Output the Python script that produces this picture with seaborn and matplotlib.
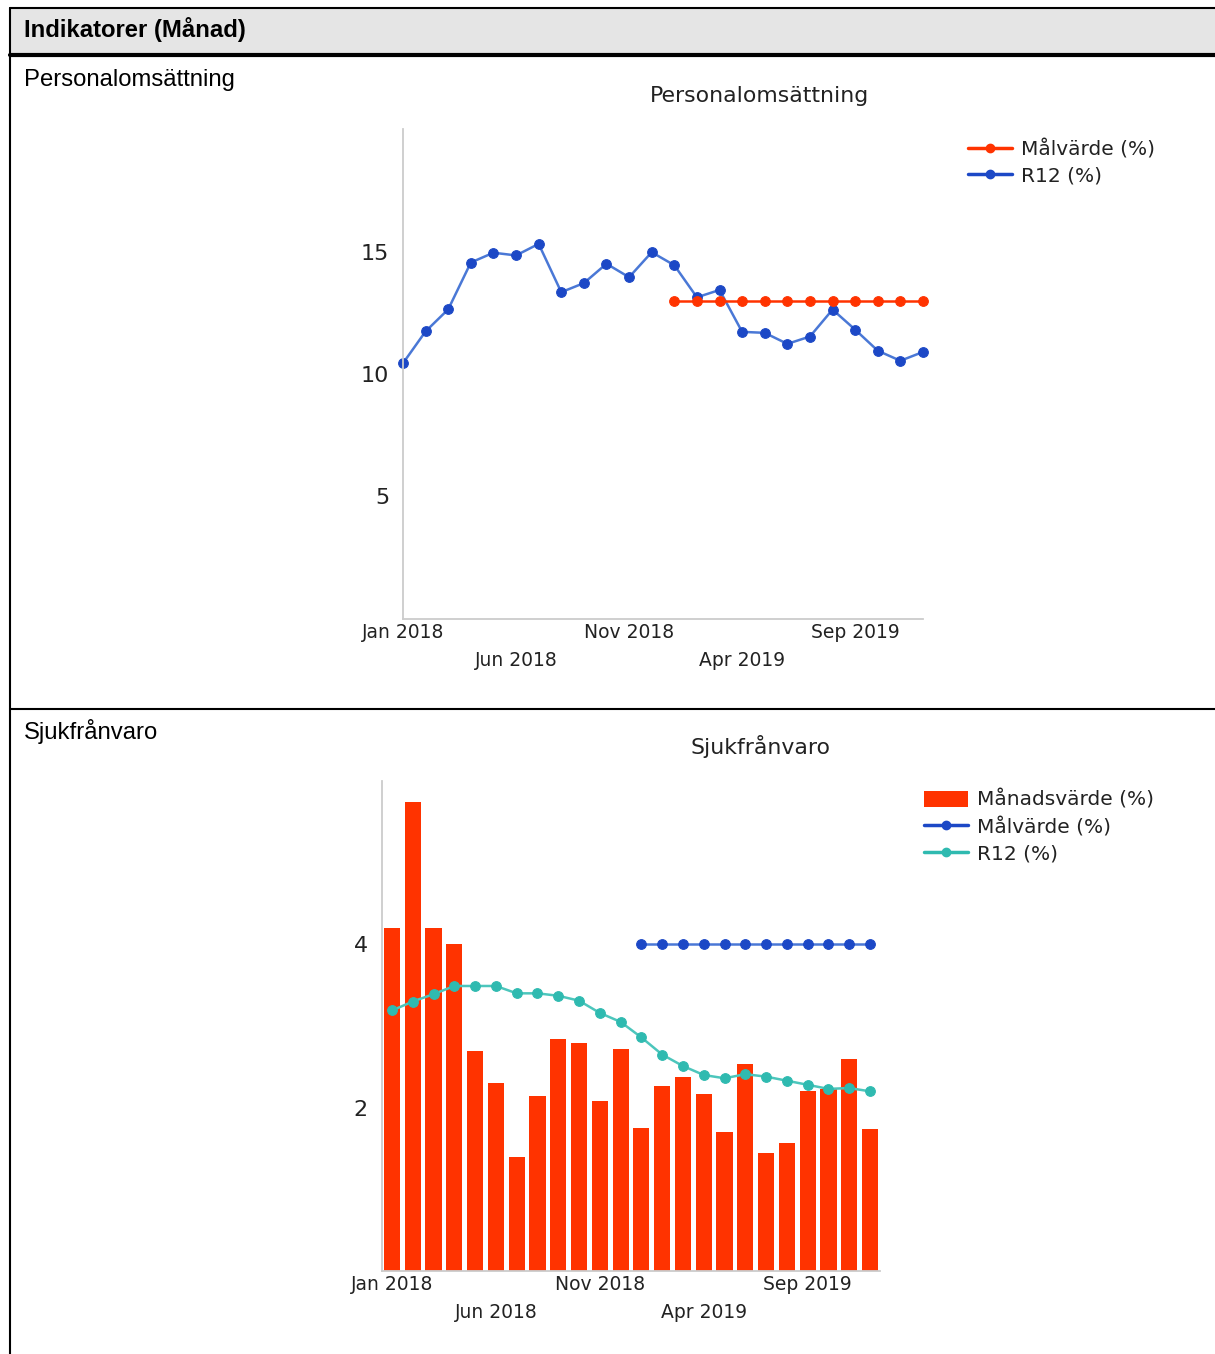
import matplotlib
matplotlib.use("Agg")
import matplotlib.pyplot as plt
from matplotlib import font_manager as fm
from matplotlib.lines import Line2D
from matplotlib.patches import Patch, Rectangle
import numpy as np
import pandas as pd
import seaborn as sns

months = ["Jan 2018", "Feb 2018", "Mar 2018", "Apr 2018", "May 2018", "Jun 2018",
          "Jul 2018", "Aug 2018", "Sep 2018", "Oct 2018", "Nov 2018", "Dec 2018",
          "Jan 2019", "Feb 2019", "Mar 2019", "Apr 2019", "May 2019", "Jun 2019",
          "Jul 2019", "Aug 2019", "Sep 2019", "Oct 2019", "Nov 2019", "Dec 2019"]
ticks_row1 = ["Jan 2018", "Nov 2018", "Sep 2019"]
ticks_row2 = ["Jun 2018", "Apr 2019"]

# Personalomsättning
pers_r12 = [10.44, 11.74, 12.64, 14.55, 14.95, 14.84, 15.31, 13.34, 13.71, 14.50, 13.95, 14.97,
            14.44, 13.13, 13.43, 11.72, 11.68, 11.23, 11.53, 12.63, 11.81, 10.95, 10.54, 10.90]
pers_mal = [np.nan, np.nan, np.nan, np.nan, np.nan, np.nan, np.nan, np.nan, np.nan, np.nan, np.nan, np.nan,
            13.0, 13.0, 13.0, 13.0, 13.0, 13.0, 13.0, 13.0, 13.0, 13.0, 13.0, 13.0]

# Sjukfrånvaro
sjuk_manad = [4.20, 5.74, 4.20, 4.00, 2.69, 2.30, 1.39, 2.14, 2.84, 2.79, 2.08, 2.72,
              1.75, 2.27, 2.37, 2.17, 1.70, 2.54, 1.45, 1.57, 2.20, 2.23, 2.59, 1.74]
sjuk_r12 = [3.19, 3.30, 3.39, 3.49, 3.49, 3.49, 3.40, 3.40, 3.37, 3.31, 3.16, 3.05,
            2.86, 2.65, 2.51, 2.40, 2.36, 2.41, 2.38, 2.33, 2.28, 2.23, 2.24, 2.20]
sjuk_mal = [np.nan, np.nan, np.nan, np.nan, np.nan, np.nan, np.nan, np.nan, np.nan, np.nan, np.nan, np.nan,
            4.0, 4.0, 4.0, 4.0, 4.0, 4.0, 4.0, 4.0, 4.0, 4.0, 4.0, 4.0]

RED = "#ff3300"
BLUE_M = "#1c48c6"
BLUE_L = "#4a78d6"
TEAL_M = "#2fbab0"
TEAL_L = "#4cc6bc"
TXT = "#222222"

sns.set_style("white")
plt.rcParams["font.family"] = ["DejaVu Sans"]


def lib_font(bold, size):
    # plain Liberation Sans (avoid the Narrow variant)
    want = 700 if bold else 400
    for f in fm.fontManager.ttflist:
        if (f.name == "Liberation Sans" and "narrow" not in f.fname.lower()
                and f.style == "normal" and f.weight == want):
            return fm.FontProperties(fname=f.fname, size=size)
    return fm.FontProperties(family="Arimo", size=size, weight="bold" if bold else "normal")


W, H = 1215, 1354
fig = plt.figure(figsize=(W / 100, H / 100), dpi=100)


def fx(x):
    return x / W


def fy(y):
    return 1 - y / H


# document frame
fig.add_artist(Rectangle((fx(10), fy(53)), fx(1215) - fx(10), fy(8) - fy(53),
                         transform=fig.transFigure, facecolor="#e5e5e5", edgecolor="none"))
fig.add_artist(Line2D([fx(10), 1], [fy(8), fy(8)], transform=fig.transFigure, color="black", lw=1.5))
fig.add_artist(Line2D([fx(10), 1], [fy(54.5), fy(54.5)], transform=fig.transFigure, color="black", lw=3))
fig.add_artist(Line2D([fx(10), 1], [fy(709), fy(709)], transform=fig.transFigure, color="black", lw=1.5))
fig.add_artist(Line2D([fx(10), fx(10)], [fy(8), 0], transform=fig.transFigure, color="black", lw=1.5))

fig.text(fx(24), fy(30), "Indikatorer (Månad)", fontproperties=lib_font(True, 17.2),
         va="center", ha="left", color="black")
fig.text(fx(24), fy(80), "Personalomsättning", fontproperties=lib_font(False, 17.2),
         va="center", ha="left", color="black")
fig.text(fx(24), fy(732), "Sjukfrånvaro", fontproperties=lib_font(False, 17.2),
         va="center", ha="left", color="black")


def style_axes(ax, yticks):
    sns.despine(ax=ax)
    for s in ["left", "bottom"]:
        ax.spines[s].set_color("#cccccc")
        ax.spines[s].set_linewidth(1.3)
    ax.set_yticks(yticks)
    ax.set_yticklabels([str(v) for v in yticks])
    ax.tick_params(axis="y", length=7, width=1, color="#bbbbbb", labelsize=16, labelcolor=TXT, pad=3)
    ax.set_xticks([0, 10, 20])
    ax.set_xticklabels(ticks_row1)
    ax.set_xticks([5, 15], minor=True)
    ax.set_xticklabels(ticks_row2, minor=True)
    ax.tick_params(axis="x", which="both", length=0, labelsize=13.5, labelcolor=TXT)
    ax.tick_params(axis="x", which="major", pad=3)
    ax.tick_params(axis="x", which="minor", pad=23)
    ax.set_xlabel("")
    ax.set_ylabel("")
    ax.grid(False)


# ---- Chart 1: Personalomsättning
df1 = pd.DataFrame({"idx": np.arange(len(months)), "month": months,
                    "r12": pers_r12, "mal": pers_mal})
ax1 = fig.add_axes([fx(403), fy(619), fx(923) - fx(403), fy(129) - fy(619)])
sns.lineplot(data=df1, x="idx", y="r12", ax=ax1, color=BLUE_L, lw=1.8, marker="o",
             markersize=7, markerfacecolor=BLUE_M, markeredgecolor=BLUE_M, clip_on=False)
sub = df1.dropna(subset=["mal"])
sns.lineplot(data=sub, x="idx", y="mal", ax=ax1, color=RED, lw=1.8, marker="o",
             markersize=7, markerfacecolor=RED, markeredgecolor=RED, clip_on=False)
ax1.set_xlim(0, 23)
ax1.set_ylim(0, 20)
style_axes(ax1, [5, 10, 15])
fig.text(fx(760), fy(96), "Personalomsättning", fontsize=15.8, color=TXT, ha="center", va="center")

h1 = [Line2D([], [], color=RED, lw=2.5, marker="o", markersize=6),
      Line2D([], [], color=BLUE_M, lw=2.5, marker="o", markersize=6)]
fig.legend(h1, ["Målvärde (%)", "R12 (%)"], loc="upper left",
           bbox_to_anchor=(fx(968), fy(139)), frameon=False, fontsize=14.5,
           handlelength=2.2, handletextpad=0.45, labelspacing=0.35, borderpad=0,
           borderaxespad=0, labelcolor=TXT)

# ---- Chart 2: Sjukfrånvaro
df2 = pd.DataFrame({"idx": np.arange(len(months)), "month": months,
                    "manad": sjuk_manad, "r12": sjuk_r12, "mal": sjuk_mal})
ax2 = fig.add_axes([fx(381.6), fy(1271), fx(880.4) - fx(381.6), fy(781) - fy(1271)])
sns.barplot(data=df2, x="month", y="manad", order=months, ax=ax2, color=RED,
            saturation=1, width=0.78, linewidth=0)
sns.lineplot(data=df2, x="idx", y="r12", ax=ax2, color=TEAL_L, lw=1.8, marker="o",
             markersize=7, markerfacecolor=TEAL_M, markeredgecolor=TEAL_M, clip_on=False)
sub2 = df2.dropna(subset=["mal"])
sns.lineplot(data=sub2, x="idx", y="mal", ax=ax2, color=BLUE_L, lw=1.8, marker="o",
             markersize=7, markerfacecolor=BLUE_M, markeredgecolor=BLUE_M, clip_on=False)
ax2.set_xlim(-0.5, 23.5)
ax2.set_ylim(0, 6)
style_axes(ax2, [2, 4])
fig.text(fx(760), fy(747), "Sjukfrånvaro", fontsize=15.8, color=TXT, ha="center", va="center")

h2 = [Patch(facecolor=RED, edgecolor="none"),
      Line2D([], [], color=BLUE_M, lw=2.5, marker="o", markersize=6),
      Line2D([], [], color=TEAL_M, lw=2.5, marker="o", markersize=6)]
fig.legend(h2, ["Månadsvärde (%)", "Målvärde (%)", "R12 (%)"], loc="upper left",
           bbox_to_anchor=(fx(924), fy(790)), frameon=False, fontsize=14.5,
           handlelength=2.2, handleheight=0.9, handletextpad=0.45, labelspacing=0.35,
           borderpad=0, borderaxespad=0, labelcolor=TXT)

fig.savefig("out.png", dpi=100)
